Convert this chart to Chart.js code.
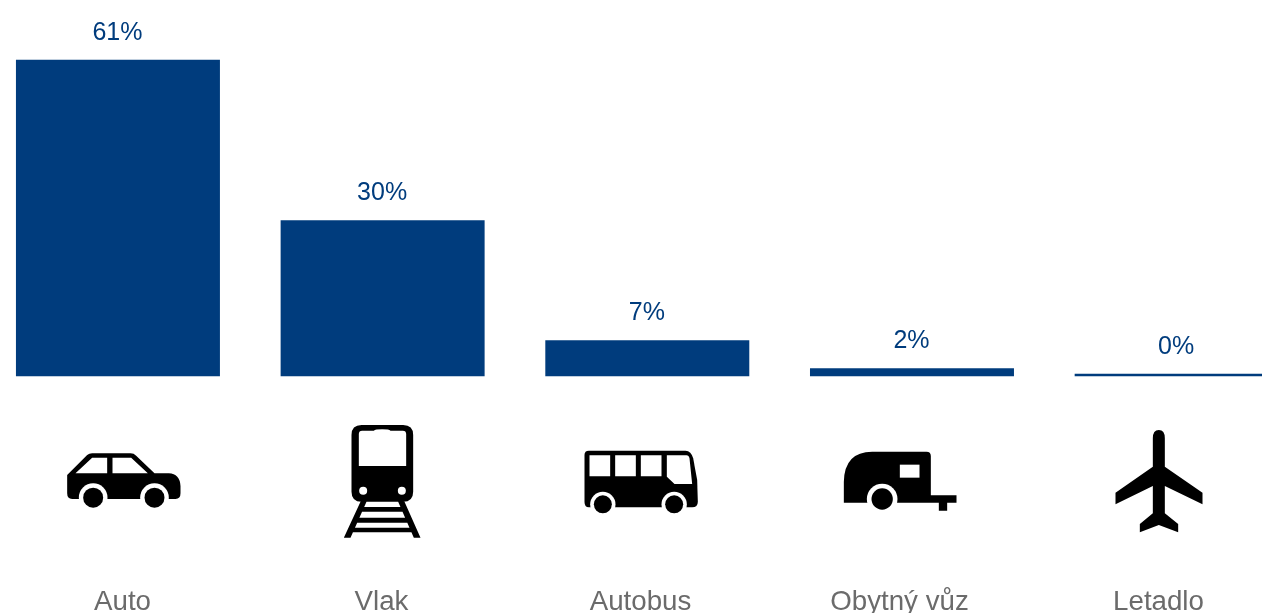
<!DOCTYPE html>
<html>
<head>
<meta charset="utf-8">
<script src="https://cdn.jsdelivr.net/npm/chart.js@4"></script>
<style>
html,body{margin:0;padding:0;background:#fff;width:1262px;height:613px;overflow:hidden;position:relative}
canvas{position:absolute;left:-15px;top:0}
</style>
</head>
<body>
<canvas id="c" width="1325" height="640"></canvas>
<script>
const categories = ["Auto", "Vlak", "Autobus", "Obytný vůz", "Letadlo"];
const shares = [61, 30.1, 7, 1.6, 0.55];
const shareLabels = ["61%", "30%", "7%", "2%", "0%"];

const BLUE = "#003c7d";
const ICONS = [
  {ax:246, dy:33.5, body:"M80 195L140 135Q146 130 155 130L270 130Q280 130 287 137L342 190L385 190Q418 192 420 228L420 250Q420 267 405 267L95 267Q80 267 80 250Z",
   holes:"M105 190L155 143L200 143L200 190ZM216 143L272 143L322 190L216 190Z", wheels:[[158,263,43,30],[342,263,43,30]]},
  {ax:1023, dy:33.5, body:"M963 45L1088 45Q1118 45 1118 75L1118 245Q1118 275 1088 275L963 275Q933 275 933 245L933 75Q933 45 963 45ZM960 275L978 275L930 383L910 383ZM1073 275L1092 275L1140 383L1120 383ZM958 291L1092 291L1098 305L952 305ZM945 323L1105 323L1112 338L938 338ZM930 353L1120 353L1126 367L924 367Z",
   holes:"M965 62L1000 62Q1004 58 1025 58Q1046 58 1050 62L1087 62Q1097 62 1097 72L1097 168L955 168L955 72Q955 62 965 62Z", wheels:[[968,242,12,0],[1084,242,12,0]]},
  {ax:210, dy:43.5, body:"M55 92L345 92Q362 92 368 115L380 180L382 245Q382 262 365 262L55 262Q42 262 42 245L42 105Q42 92 55 92Z",
   holes:"M57 106L119 106L119 169L57 169ZM134 106L196 106L196 169L134 169ZM211 106L273 106L273 169L211 169ZM289 106L348 106Q355 106 357 115L365 192L312 192L289 170Z", wheels:[[97,253,38,27],[311,253,38,27]]},
  {ax:987, dy:43.5, body:"M820 248L820 185Q822 95 905 95L1068 95Q1081 95 1081 108L1081 226L1158 226L1158 248L1130 248L1130 272L1105 272L1105 248Z",
   holes:"M988 134L1047 134L1047 173L988 173Z", wheels:[[935,237,46,32]]},
  {ax:294, dy:-46.5, body:"M277 325Q277 300 295 300Q313 300 313 325L313 410L426 488L426 523L313 468L313 550L353 582L353 607L295 585L238 607L238 582L277 550L277 468L165 523L165 488L277 410Z",
   holes:"", wheels:[]}
];

const valueLabels = {
  id:"valueLabels",
  afterDatasetsDraw(chart){
    const ctx = chart.ctx, meta = chart.getDatasetMeta(0);
    ctx.save();
    ctx.font = '25px "Liberation Sans"';
    ctx.fillStyle = BLUE;
    ctx.textAlign = "center";
    ctx.textBaseline = "middle";
    meta.data.forEach((bar,i)=>{
      ctx.fillText(shareLabels[i], bar.x - 0.5, bar.y - 27);
    });
    ctx.restore();
  }
};

const iconRow = {
  id:"iconRow",
  afterDraw(chart){
    const ctx = chart.ctx, sx = chart.scales.x2, base = chart.scales.y.getPixelForValue(0);
    ICONS.forEach((ic,i)=>{
      ctx.save();
      ctx.translate(sx.getPixelForValue(i), base + ic.dy);
      ctx.scale(1/3,1/3);
      ctx.translate(-ic.ax,0);
      ctx.fillStyle = "#000";
      ctx.fill(new Path2D(ic.body));
      ctx.fillStyle = "#fff";
      if(ic.holes) ctx.fill(new Path2D(ic.holes));
      ic.wheels.forEach(w=>{
        ctx.fillStyle = "#fff";
        ctx.beginPath(); ctx.arc(w[0],w[1],w[2],0,Math.PI*2); ctx.fill();
        if(w[3]){ ctx.fillStyle = "#000"; ctx.beginPath(); ctx.arc(w[0],w[1],w[3],0,Math.PI*2); ctx.fill(); }
      });
      ctx.restore();
    });
  }
};

new Chart(document.getElementById("c"),{
  type:"bar",
  data:{labels:categories, datasets:[{data:shares, backgroundColor:BLUE, borderWidth:0, barPercentage:1, categoryPercentage:0.7707, xAxisID:"x", yAxisID:"y"}]},
  options:{
    responsive:false, animation:false, devicePixelRatio:1,
    layout:{padding:{left:0.6, right:1, top:0, bottom:0}},
    plugins:{legend:{display:false}, tooltip:{enabled:false}},
    scales:{
      y:{display:false, min:0, max:72.5},
      x:{display:false, type:"category"},
      x2:{
        type:"linear", axis:"x", position:"bottom", offset:false,
        min:(-14.4-122.5)/259, max:(1309-122.5)/259,
        grid:{display:false}, border:{display:false},
        afterFit(s){ s.height = 263.5; s.paddingLeft = 0; s.paddingRight = 0; },
        afterBuildTicks(s){ s.ticks = categories.map((_,i)=>({value:i})); },
        ticks:{
          autoSkip:false, maxRotation:0, padding:201, color:"#6b6b6b",
          font:{family:"Liberation Sans", size:27.7},
          callback:(v)=>categories[v]
        }
      }
    }
  },
  plugins:[valueLabels, iconRow]
});
</script>
</body>
</html>
